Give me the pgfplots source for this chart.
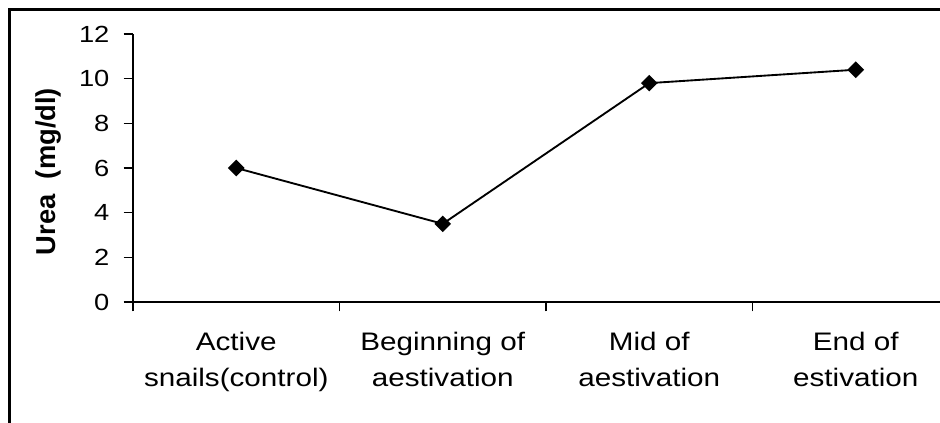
\documentclass[border=0pt]{standalone}
\usepackage{fontspec}
\setmainfont{Liberation Sans}
\usepackage{graphicx}
\usepackage{pgfplots}
\pgfplotsset{compat=1.18}
\newcommand{\sx}[1]{\scalebox{1.17}[1]{#1}}
\begin{document}
\begin{tikzpicture}[x=0.75pt,y=0.75pt]
\useasboundingbox (0,0) rectangle (940,423);
\clip (0,0) rectangle (940,423);
\draw[line width=2.1pt, black] (9.6,-10) -- (9.6,413.5) -- (960,413.5);
\begin{axis}[
  at={(99.75pt,90.75pt)}, anchor=south west,
  width=619.5pt, height=201pt, scale only axis,
  xmin=-0.5, xmax=3.5, ymin=0, ymax=12,
  axis x line*=bottom, axis y line*=left,
  axis line style={-, line width=1.3pt},
  every outer x axis line/.append style={-},
  every outer y axis line/.append style={-},
  xtick={-0.5,0.5,1.5,2.5,3.5},
  x tick label as interval,
  xticklabels={
    {\sx{\begin{tabular}{@{}c@{}}Active\\snails(control)\end{tabular}}},
    {\sx{\begin{tabular}{@{}c@{}}Beginning of\\aestivation\end{tabular}}},
    {\sx{\begin{tabular}{@{}c@{}}Mid of\\aestivation\end{tabular}}},
    {\sx{\begin{tabular}{@{}c@{}}End of\\estivation\end{tabular}}}},
  ytick={0,2,4,6,8,10,12},
  yticklabel={\sx{\pgfmathprintnumber{\tick}}},
  tick align=outside,
  major tick length=7pt,
  tick style={black, line width=1.2pt},
  xticklabel style={font=\fontsize{19}{27}\selectfont, anchor=north, inner sep=0pt, yshift=-10.5pt},
  yticklabel style={font=\fontsize{17.5}{20}\selectfont, anchor=east, inner sep=0pt, xshift=-10.5pt},
  /pgf/number format/assume math mode=true,
  ylabel={Urea\ \ (mg/dl)},
  ylabel style={font=\bfseries\fontsize{20.5}{24}\selectfont, at={(axis description cs:-0.1029,0.487)}, anchor=center, inner sep=0pt},
  clip=false,
]
\addplot[black, line width=1.4pt, mark=square*, mark size=3.7pt, mark options={rotate=45, solid}]
  coordinates {(0,6.0) (1,3.5) (2,9.8) (3,10.4)};
\end{axis}
\end{tikzpicture}
\end{document}
